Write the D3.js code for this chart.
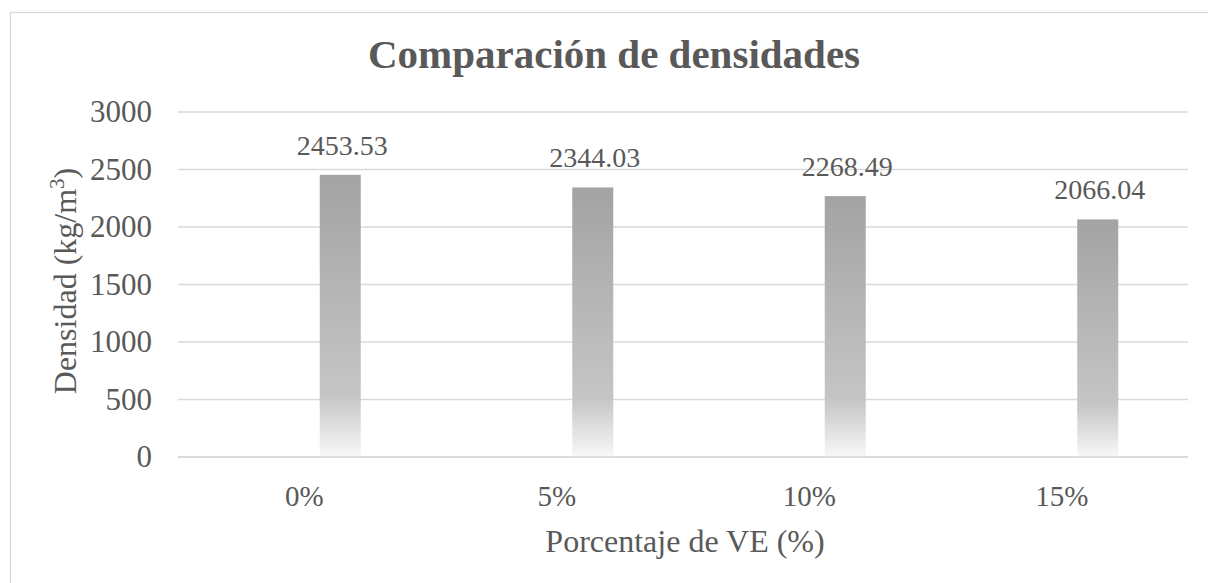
<!DOCTYPE html>
<html>
<head>
<meta charset="utf-8">
<script src="https://cdn.jsdelivr.net/npm/d3@7"></script>
<style>
  body { margin: 0; background: white; }
</style>
</head>
<body>
<div id="chart"></div>
<script>
const categories = ["0%", "5%", "10%", "15%"];
const densidades = [2453.53, 2344.03, 2268.49, 2066.04];
const yTicks = [0, 500, 1000, 1500, 2000, 2500, 3000];

const w = 1208;
const h = 583;
const plotLeft = 178, plotRight = 1188, plotTop = 112, plotBottom = 457;
const barWidth = 41;
const barShift = 36;
const serif = "Liberation Serif";
const textColor = "#595959";

const svg = d3.select("#chart")
              .append("svg")
              .attr("width", w)
              .attr("height", h);

// chart area border (runs off the right/bottom edge)
svg.append("rect")
   .attr("x", 10.5)
   .attr("y", 12.5)
   .attr("width", 1208)
   .attr("height", 600)
   .attr("fill", "white")
   .attr("stroke", "#d9d9d9")
   .attr("stroke-width", 1.3);

const grad = svg.append("defs")
                .append("linearGradient")
                .attr("id", "barGrad")
                .attr("x1", 0).attr("y1", 0)
                .attr("x2", 0).attr("y2", 1);
grad.append("stop").attr("offset", "0%").attr("stop-color", "#a3a3a3");
grad.append("stop").attr("offset", "78%").attr("stop-color", "#c5c5c5");
grad.append("stop").attr("offset", "100%").attr("stop-color", "#f8f8f8");

const xScale = d3.scaleBand()
                 .domain(categories)
                 .range([plotLeft, plotRight]);

const yScale = d3.scaleLinear()
                 .domain([0, 3000])
                 .range([plotBottom, plotTop]);

// gridlines
svg.append("g")
   .selectAll("line")
   .data(yTicks)
   .enter()
   .append("line")
   .attr("x1", plotLeft)
   .attr("x2", plotRight)
   .attr("y1", d => yScale(d))
   .attr("y2", d => yScale(d))
   .attr("stroke", "#d9d9d9")
   .attr("stroke-width", 1.3);

// y axis labels
const yAxis = d3.axisLeft(yScale).tickValues(yTicks).tickFormat(d3.format("d")).tickSize(0).tickPadding(26);
const gy = svg.append("g")
   .attr("transform", "translate(" + plotLeft + ",0)")
   .call(yAxis);
gy.select(".domain").remove();
gy.selectAll("text")
  .style("font-size", "31px")
  .style("font-family", serif)
  .attr("fill", textColor);

// x axis labels
const xAxis = d3.axisBottom(xScale).tickSize(0).tickPadding(28);
const gx = svg.append("g")
   .attr("transform", "translate(0," + plotBottom + ")")
   .call(xAxis);
gx.select(".domain").remove();
gx.selectAll("text")
  .style("font-size", "29px")
  .style("font-family", serif)
  .attr("fill", textColor);

const barX = (d, i) => xScale(categories[i]) + xScale.bandwidth() / 2 + barShift - barWidth / 2;

svg.selectAll("rect.bar")
   .data(densidades)
   .enter()
   .append("rect")
   .attr("class", "bar")
   .attr("x", barX)
   .attr("y", d => yScale(d))
   .attr("width", barWidth)
   .attr("height", d => yScale(0) - yScale(d))
   .attr("fill", "url(#barGrad)");

// baseline
svg.append("line")
   .attr("x1", plotLeft).attr("x2", plotRight)
   .attr("y1", plotBottom).attr("y2", plotBottom)
   .attr("stroke", "#d9d9d9")
   .attr("stroke-width", 1.5);

// data labels
svg.selectAll("text.label")
   .data(densidades)
   .enter()
   .append("text")
   .attr("class", "label")
   .attr("x", (d, i) => barX(d, i) + barWidth / 2 + 2)
   .attr("y", d => yScale(d) - 20)
   .attr("text-anchor", "middle")
   .style("font-family", serif)
   .style("font-size", "28px")
   .attr("fill", textColor)
   .text(d => d.toFixed(2));

svg.append("text")
   .attr("x", 614)
   .attr("y", 68)
   .attr("text-anchor", "middle")
   .style("font-family", serif)
   .style("font-size", "41px")
   .style("font-weight", "bold")
   .attr("fill", textColor)
   .text("Comparación de densidades");

svg.append("text")
   .attr("x", (plotLeft + plotRight) / 2 + 2)
   .attr("y", 552)
   .attr("text-anchor", "middle")
   .style("font-family", serif)
   .style("font-size", "32px")
   .attr("fill", textColor)
   .text("Porcentaje de VE (%)");

const yTitle = svg.append("text")
   .attr("transform", "translate(76,281) rotate(-90)")
   .attr("text-anchor", "middle")
   .style("font-family", serif)
   .style("font-size", "32px")
   .attr("fill", textColor);
yTitle.append("tspan").text("Densidad (kg/m");
yTitle.append("tspan").attr("baseline-shift", "super").style("font-size", "21px").text("3");
yTitle.append("tspan").text(")");
</script>
</body>
</html>
